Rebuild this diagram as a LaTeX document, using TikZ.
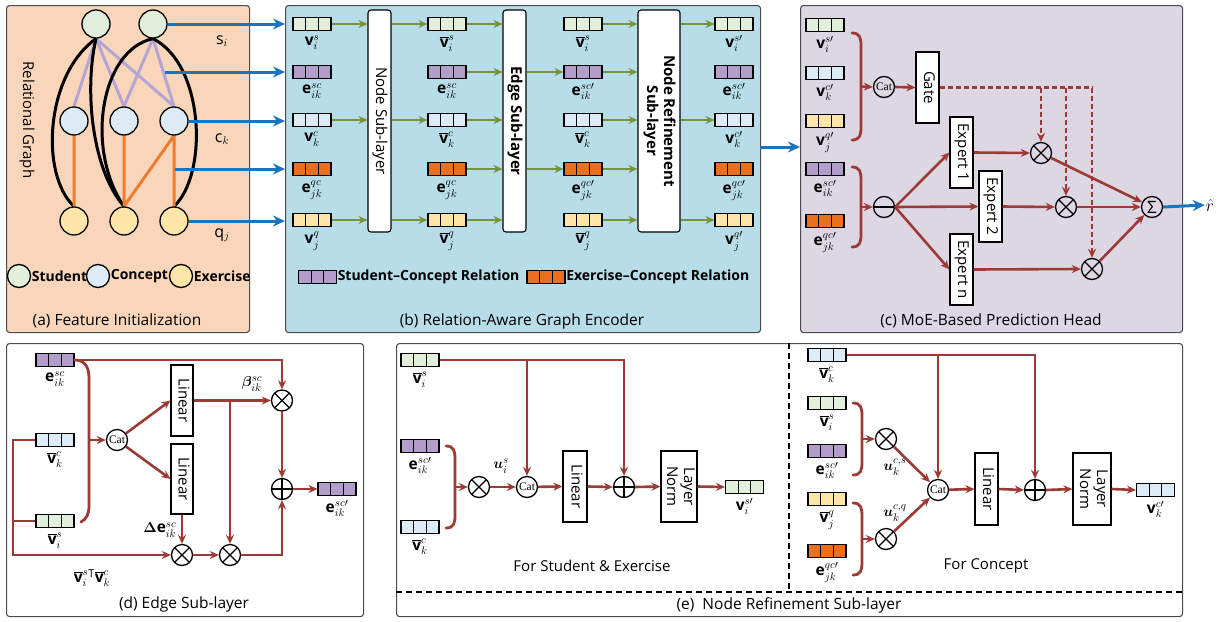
\documentclass[tikz,border=0pt]{standalone}
\usepackage{amsmath,bm}
\usepackage{fontspec}
\setmainfont{Open Sans}
\newfontfamily\catfont{Liberation Serif}
\usetikzlibrary{arrows.meta,calc}
\definecolor{cS}{HTML}{E2EFDA}
\definecolor{cC}{HTML}{DDEBF7}
\definecolor{cQ}{HTML}{FFE5A8}
\definecolor{cP}{HTML}{B39DCB}
\definecolor{cO}{HTML}{E8701F}
\definecolor{dred}{HTML}{9C3B35}
\definecolor{olive}{HTML}{77933C}
\definecolor{arrblue}{HTML}{1B75BC}
\definecolor{pA}{HTML}{F9D6BA}
\definecolor{pB}{HTML}{B7DDE8}
\definecolor{pC}{HTML}{DDD6E3}
\definecolor{gpurple}{HTML}{B4A5D4}
\definecolor{gorange}{HTML}{ED7D31}
\pgfdeclarelayer{panel}
\pgfdeclarelayer{edge}
\pgfsetlayers{panel,edge,main}
\newcommand\bv{\overline{\mathbf{v}}}
\newcommand\rotlab[1]{\rotatebox{-90}{\begin{tabular}{@{}c@{}}#1\end{tabular}}}
\newcommand\mybrace[4]{% x, ytop, ybot, name of tip
  \draw[brace] (#1,#2) .. controls (#1+8,#2) and (#1+9,#2+5) .. (#1+9,#2+13) -- (#1+9,#3-13) .. controls (#1+9,#3-5) and (#1+8,#3) .. (#1,#3);
  \coordinate (#4) at (#1+9,{(#2+#3)/2});}
\tikzset{
  every node/.style={font=\fontsize{15}{17}\selectfont},
  panelbox/.style={draw=black!70, line width=1.1pt, rounded corners=3pt, inner sep=0, anchor=north west},
  gnode/.style={circle, draw, line width=1.3pt, minimum size=28pt, inner sep=0, fill=#1},
  lgnode/.style={circle, draw, line width=1.3pt, minimum size=23pt, inner sep=0, fill=#1},
  vec/.style={draw, line width=1.1pt, fill=#1, minimum width=38pt, minimum height=13pt, inner sep=0,
    path picture={\draw[line width=1.1pt]
      ([xshift=12.67pt]path picture bounding box.south west) -- ([xshift=12.67pt]path picture bounding box.north west)
      ([xshift=-12.67pt]path picture bounding box.south east) -- ([xshift=-12.67pt]path picture bounding box.north east);}},
  vlab/.style={font=\fontsize{15.5}{18}\selectfont, inner sep=0.5pt},
  lgtext/.style={font=\fontsize{14}{16}\selectfont\bfseries, inner sep=0.5pt, anchor=west},
  lbox/.style={draw, line width=1.1pt, fill=white, rounded corners=3pt, inner sep=0},
  obox/.style={draw, line width=1.1pt, fill=white, inner sep=0},
  opx/.style={circle, draw, line width=1.3pt, minimum size=21pt, inner sep=0,
    path picture={\draw[line width=1.3pt] (path picture bounding box.north west) -- (path picture bounding box.south east) (path picture bounding box.north east) -- (path picture bounding box.south west);}},
  opp/.style={circle, draw, line width=1.3pt, minimum size=21pt, inner sep=0,
    path picture={\draw[line width=1.3pt] (path picture bounding box.north) -- (path picture bounding box.south) (path picture bounding box.west) -- (path picture bounding box.east);}},
  opm/.style={circle, draw, line width=1.3pt, minimum size=21pt, inner sep=0,
    path picture={\draw[line width=1.3pt] (path picture bounding box.west) -- (path picture bounding box.east);}},
  catc/.style={circle, draw, line width=1.3pt, minimum size=21pt, inner sep=0, font=\catfont\fontsize{11.5}{11.5}\selectfont},
  sumc/.style={circle, draw, line width=1.3pt, minimum size=21pt, inner sep=0, font=\fontsize{17}{17}\selectfont},
  rline/.style={draw=dred, line width=2.6pt},
  rarr/.style={draw=dred, line width=2.6pt, -{Stealth[length=9pt,width=8pt]}},
  rdash/.style={draw=dred, line width=2.6pt, dash pattern=on 5pt off 3pt},
  brace/.style={draw=dred, line width=2.8pt, line cap=round},
  garr/.style={draw=olive, line width=2.6pt, -{Stealth[length=9pt,width=8pt]}},
  barr/.style={draw=arrblue, line width=3pt, -{Stealth[length=12pt,width=11pt]}},
  gedge/.style={line width=3pt},
  captxt/.style={font=\fontsize{15.5}{17}\selectfont},
}
\begin{document}
\begin{tikzpicture}[x=1pt,y=-1pt,label distance=4pt]
\useasboundingbox (0,0) rectangle (1222,621);
\begin{pgfonlayer}{panel}
\fill[white] (0,0) rectangle (1222,621);
\node[panelbox, fill=pA, minimum width=243pt, minimum height=327pt] (PA) at (6,5) {};
\node[panelbox, fill=pB, minimum width=475pt, minimum height=327pt] (PB) at (285,5) {};
\node[panelbox, fill=pC, minimum width=382pt, minimum height=327pt] (PC) at (800,5) {};
\node[panelbox, fill=white, minimum width=357pt, minimum height=273pt] (PD) at (6,343) {};
\node[panelbox, fill=white, minimum width=786pt, minimum height=273pt] (PE) at (396,343) {};
\end{pgfonlayer}

% ---------------- panel (a)
\node[gnode=cS] (s1) at (96,24) {};
\node[gnode=cS] (s2) at (153,24) {};
\node[gnode=cC] (c1) at (74,121) {};
\node[gnode=cC] (c2) at (124,121) {};
\node[gnode=cC] (c3) at (174,121) {};
\node[gnode=cQ] (q1) at (74,221) {};
\node[gnode=cQ] (q2) at (124,221) {};
\node[gnode=cQ] (q3) at (174,221) {};
\begin{pgfonlayer}{edge}
\draw[gpurple, gedge] (s1.south) -- (c1.north) (s1.south) -- (c2.north) (s1.south) -- (c3.north)
  (s2.south) -- (c2.north) (s2.south) -- (c3.north);
\draw[black, gedge] (s1.south) .. controls (45,75) and (40,175) .. (q1.north);
\draw[black, gedge] (s1.south) .. controls (84,90) and (92,170) .. (q2.north);
\draw[black, gedge] (s2.south) .. controls (100,50) and (85,150) .. (q2.north);
\draw[black, gedge] (s2.south) .. controls (205,65) and (208,175) .. (q3.north);
\draw[gorange, gedge] (c1.south) -- (q1.north) (c2.south) -- (q2.north) (c3.south) -- (q2.north) (c3.south) -- (q3.north);
\end{pgfonlayer}
\coordinate (aE1) at (165,72);
\coordinate (aE2) at (175,169);
\draw[barr] (s2.east) -- (s2.east -| PB.west);
\draw[barr] (aE1) -- (aE1 -| PB.west);
\draw[barr] (c3.east) -- (c3.east -| PB.west);
\draw[barr] (aE2) -- (aE2 -| PB.west);
\draw[barr] (q3.east) -- (q3.east -| PB.west);
\node[font=\fontsize{16}{16}\selectfont] (ls) at (222,41) {$\mathrm{s}_i$};
\node[font=\fontsize{16}{16}\selectfont] (lc) at (222,139) {$\mathrm{c}_k$};
\node[font=\fontsize{16}{16}\selectfont] (lq) at (222,235) {$\mathrm{q}_j$};
\node[rotate=-90] (relg) at (27,120) {Relational Graph};
\node[lgnode=cS] (lgS) at (19,276) {};
\node[lgtext] (lgSt) at (lgS.east) {Student};
\node[lgnode=cC] (lgC) at (98,276) {};
\node[lgtext] (lgCt) at (lgC.east) {Concept};
\node[lgnode=cQ] (lgQ) at (181,276) {};
\node[lgtext] (lgQt) at (lgQ.east) {Exercise};
\node[captxt] (capA) at (117,321) {(a) Feature Initialization};

% ---------------- panel (b)
\node[vec=cS, label={[vlab]below:$\mathbf{v}_i^s$}] (b1s) at (312,24) {};
\node[vec=cP, label={[vlab]below:$\mathbf{e}_{ik}^{sc}$}] (b1e) at (312,72) {};
\node[vec=cC, label={[vlab]below:$\mathbf{v}_k^c$}] (b1c) at (312,120) {};
\node[vec=cO, label={[vlab]below:$\mathbf{e}_{jk}^{qc}$}] (b1f) at (312,169) {};
\node[vec=cQ, label={[vlab]below:$\mathbf{v}_j^q$}] (b1q) at (312,220) {};
\node[vec=cS, label={[vlab]below:$\bv_i^s$}] (b2s) at (447,24) {};
\node[vec=cP, label={[vlab]below:$\mathbf{e}_{ik}^{sc}$}] (b2e) at (447,72) {};
\node[vec=cC, label={[vlab]below:$\bv_k^c$}] (b2c) at (447,120) {};
\node[vec=cO, label={[vlab]below:$\mathbf{e}_{jk}^{qc}$}] (b2f) at (447,169) {};
\node[vec=cQ, label={[vlab]below:$\bv_j^q$}] (b2q) at (447,220) {};
\node[vec=cS, label={[vlab]below:$\bv_i^s$}] (b3s) at (583,24) {};
\node[vec=cP, label={[vlab]below:$\mathbf{e}_{ik}^{sc\prime}$}] (b3e) at (583,72) {};
\node[vec=cC, label={[vlab]below:$\bv_k^c$}] (b3c) at (583,120) {};
\node[vec=cO, label={[vlab]below:$\mathbf{e}_{jk}^{qc\prime}$}] (b3f) at (583,169) {};
\node[vec=cQ, label={[vlab]below:$\bv_j^q$}] (b3q) at (583,220) {};
\node[vec=cS, label={[vlab]below:$\mathbf{v}_i^{s\prime}$}] (b4s) at (734,24) {};
\node[vec=cP, label={[vlab]below:$\mathbf{e}_{ik}^{sc\prime}$}] (b4e) at (734,72) {};
\node[vec=cC, label={[vlab]below:$\mathbf{v}_k^{c\prime}$}] (b4c) at (734,120) {};
\node[vec=cO, label={[vlab]below:$\mathbf{e}_{jk}^{qc\prime}$}] (b4f) at (734,169) {};
\node[vec=cQ, label={[vlab]below:$\mathbf{v}_j^{q\prime}$}] (b4q) at (734,220) {};
\node[lbox, minimum width=23pt, minimum height=222pt] (NS) at (379.5,121) {\rotlab{Node Sub-layer}};
\node[lbox, minimum width=23pt, minimum height=222pt] (ES) at (514.5,121) {\rotlab{\bfseries Edge Sub-layer}};
\node[lbox, minimum width=42pt, minimum height=222pt] (NR) at (659,121) {\rotlab{\textbf{Node Refinement}\\\textbf{Sub-layer}}};
\foreach \r in {s,c,q} {
  \draw[garr] (b1\r.east) -- (b1\r.east -| NS.west);
  \draw[garr] (NS.east |- b2\r.west) -- (b2\r.west);
  \draw[garr] (NR.east |- b4\r.west) -- (b4\r.west);
}
\foreach \r in {e,f} {
  \draw[garr] (ES.east |- b3\r.west) -- (b3\r.west);
}
\foreach \r in {s,e,c,f,q} {
  \draw[garr] (b2\r.east) -- (b2\r.east -| ES.west);
  \draw[garr] (b3\r.east) -- (b3\r.east -| NR.west);
}
\node[vec=cP] (lgP) at (317.5,277) {};
\node[lgtext] (lgPt) at (lgP.east) {Student--Concept Relation};
\node[vec=cO] (lgO) at (546,277) {};
\node[lgtext] (lgOt) at (lgO.east) {Exercise--Concept Relation};
\node[captxt] (capB) at (522,321) {(b) Relation-Aware Graph Encoder};
\coordinate (bc) at (760,147);
\draw[barr] (bc) -- (bc -| PC.west);

% ---------------- panel (c)
\node[vec=cS, label={[vlab]below:$\mathbf{v}_i^{s\prime}$}] (k1) at (825,25) {};
\node[vec=cC, label={[vlab]below:$\mathbf{v}_k^{c\prime}$}] (k2) at (825,73) {};
\node[vec=cQ, label={[vlab]below:$\mathbf{v}_j^{q\prime}$}] (k3) at (825,121) {};
\node[vec=cP, label={[vlab]below:$\mathbf{e}_{ik}^{sc\prime}$}] (k4) at (825,169) {};
\node[vec=cO, label={[vlab]below:$\mathbf{e}_{jk}^{qc\prime}$}] (k5) at (825,221) {};
\mybrace{852}{33}{140}{cb1}
\mybrace{852}{167}{247}{cb2}
\node[catc] (cCat) at (884,87) {Cat};
\node[obox, minimum width=23pt, minimum height=71pt] (Gate) at (927.5,87.5) {\rotlab{Gate}};
\node[opm] (cMin) at (884,207) {};
\node[obox, minimum width=23pt, minimum height=71pt] (E1) at (961.5,152.5) {\rotlab{Expert 1}};
\node[obox, minimum width=23pt, minimum height=71pt] (E2) at (990.5,206.5) {\rotlab{Expert 2}};
\node[obox, minimum width=23pt, minimum height=71pt] (En) at (961.5,269.5) {\rotlab{Expert n}};
\node[opx] (cX1) at (1041,153) {};
\node[opx] (cX2) at (1066,207) {};
\node[opx] (cX3) at (1092,269) {};
\node[sumc] (cSum) at (1152,207) {Σ};
\node[font=\fontsize{17}{17}\selectfont, inner sep=1pt] (rhat) at (1210,205) {$\hat{r}$};
\draw[rarr] (cb1) -- (cCat.west);
\draw[rarr] (cCat.east) -- (Gate.west);
\draw[rarr] (cb2) -- (cMin.west);
\draw[rarr] (cMin.east) -- (E1.west);
\draw[rarr] (cMin.east) -- (E2.west);
\draw[rarr] (cMin.east) -- (En.west);
\draw[rarr] (E1.east) -- (cX1.west);
\draw[rarr] (E2.east) -- (cX2.west);
\draw[rarr] (En.east) -- (cX3.west);
\draw[rarr] (cX1) -- (cSum);
\draw[rarr] (cX2) -- (cSum);
\draw[rarr] (cX3) -- (cSum);
\draw[rdash] (Gate.east) -- (Gate.east -| cX3);
\draw[rdash, -{Stealth[length=9pt,width=8pt]}] (Gate.east -| cX1) -- (cX1.north);
\draw[rdash, -{Stealth[length=9pt,width=8pt]}] (Gate.east -| cX2) -- (cX2.north);
\draw[rdash, -{Stealth[length=9pt,width=8pt]}] (Gate.east -| cX3) -- (cX3.north);
\draw[barr] (cSum.east) -- (rhat.west);
\node[captxt] (capC) at (991,321) {(c) MoE-Based Prediction Head};

% ---------------- panel (d)
\node[vec=cP, label={[vlab]below:$\mathbf{e}_{ik}^{sc}$}] (dE) at (55,360) {};
\node[vec=cC, label={[vlab]below:$\bv_k^c$}] (dVk) at (55,440) {};
\node[vec=cS, label={[vlab]below:$\bv_i^s$}] (dVi) at (55,521) {};
\draw[brace] (dE.east) .. controls (84,360) and (89,366) .. (89,378) -- (89,506) .. controls (89,515) and (86,519) .. (81,522);
\coordinate (dbt) at (89,440);
\node[catc] (dCat) at (117,440) {Cat};
\node[obox, minimum width=22pt, minimum height=71pt] (Lin1) at (182,400.5) {\rotlab{Linear}};
\node[obox, minimum width=22pt, minimum height=70pt] (Lin2) at (182,479) {\rotlab{Linear}};
\node[opx] (dX1) at (282,400.5) {};
\node[opp] (dPlus) at (282,489) {};
\node[opx] (dX2) at (182,555) {};
\node[opx] (dX3) at (230,555) {};
\node[vec=cP, label={[vlab]below:$\mathbf{e}_{ik}^{sc\prime}$}] (dOut) at (337,489) {};
\node[vlab] (betal) at (252,384) {$\boldsymbol{\beta}_{ik}^{sc}$};
\node[vlab, anchor=east] (deltal) at (177,530) {$\boldsymbol{\Delta}\mathbf{e}_{ik}^{sc}$};
\node[vlab] (vvl) at (92,578) {$\bv_i^{s}{}^{\mathrm{T}}\bv_k^c$};
\draw[rarr] (dE.east) -| (dX1.north);
\draw[rarr] (dbt) -- (dCat.west);
\draw[rarr] (dCat) -- (Lin1.west);
\draw[rarr] (dCat) -- (Lin2.west);
\draw[rarr] (Lin1.east) -- (dX1.west);
\coordinate (dbr) at (230,400.5);
\draw[rarr] (dbr) -- (dX3.north);
\draw[rarr] (dX1.south) -- (dPlus.north);
\draw[rarr] (Lin2.south) -- (dX2.north);
\coordinate (dL) at (13,440);
\draw[rarr] (dVk.west) -- (dL) |- (dX2.west);
\draw[rline] (dVi.west) -- (dVi.west -| dL);
\draw[rarr] (dX2) -- (dX3);
\draw[rarr] (dX3.east) -| (dPlus.south);
\draw[rarr] (dPlus.east) -- (dOut.west);
\node[captxt] (capD) at (184,604) {(d) Edge Sub-layer};

% ---------------- panel (e)
\draw[black, line width=1.1pt, dash pattern=on 6pt off 4pt] (396,592) -- (1182,592) (789,343) -- (789,592);
\node[captxt] (capE) at (789,605) {(e)\ \ Node Refinement Sub-layer};
% left part
\node[vec=cS, label={[vlab]below:$\bv_i^s$}] (eVi) at (420,360) {};
\node[vec=cP, label={[vlab]below:$\mathbf{e}_{ik}^{sc\prime}$}] (eE) at (420,446) {};
\node[vec=cC, label={[vlab]below:$\bv_k^c$}] (eVk) at (420,527) {};
\mybrace{446}{446}{528}{ebt}
\node[opx] (eX) at (479,487) {};
\node[catc] (eCat) at (527,487) {Cat};
\node[obox, minimum width=24pt, minimum height=71pt] (eLin) at (575,486.5) {\rotlab{Linear}};
\node[opp] (ePlus) at (624,487) {};
\node[obox, minimum width=36pt, minimum height=71pt] (eLN) at (679,486.5) {\rotlab{Layer\\Norm}};
\node[vec=cS, label={[vlab]below:$\mathbf{v}_i^{s\prime}$}] (eOut) at (744.5,487) {};
\node[vlab] (eul) at (501,466) {$\boldsymbol{u}_i^s$};
\draw[rarr] (ebt) -- (eX.west);
\draw[rarr] (eX) -- (eCat);
\draw[rarr] (eCat) -- (eLin.west);
\draw[rarr] (eLin.east) -- (ePlus.west);
\draw[rarr] (ePlus.east) -- (eLN.west);
\draw[rarr] (eLN.east) -- (eOut.west);
\draw[rarr] (eVi.east) -| (ePlus.north);
\draw[rarr] (eVi.east -| eCat) -- (eCat.north);
\node (eFor) at (592,566) {For Student \& Exercise};
% right part
\node[vec=cC, label={[vlab]below:$\bv_k^c$}] (fVk) at (827,355) {};
\node[vec=cS, label={[vlab]below:$\bv_i^s$}] (fVi) at (827,403) {};
\node[vec=cP, label={[vlab]below:$\mathbf{e}_{ik}^{sc\prime}$}] (fE) at (827,451) {};
\node[vec=cQ, label={[vlab]below:$\bv_j^q$}] (fVq) at (827,499) {};
\node[vec=cO, label={[vlab]below:$\mathbf{e}_{jk}^{qc\prime}$}] (fEq) at (827,551) {};
\mybrace{853}{403}{475}{fb1}
\mybrace{853}{503}{575}{fb2}
\node[opx] (fXs) at (886,439) {};
\node[opx] (fXq) at (886,539) {};
\node[catc] (fCat) at (938,490) {Cat};
\node[obox, minimum width=23pt, minimum height=72pt] (fLin) at (986.5,489) {\rotlab{Linear}};
\node[opp] (fPlus) at (1035,490) {};
\node[obox, minimum width=38pt, minimum height=72pt] (fLN) at (1092,489) {\rotlab{Layer\\Norm}};
\node[vec=cC, label={[vlab]below:$\mathbf{v}_k^{c\prime}$}] (fOut) at (1155.5,490) {};
\node[vlab] (ful1) at (895,467) {$\boldsymbol{u}_k^{c,s}$};
\node[vlab] (ful2) at (895,513) {$\boldsymbol{u}_k^{c,q}$};
\draw[rarr] (fb1) -- (fXs.west);
\draw[rarr] (fb2) -- (fXq.west);
\draw[rarr] (fXs) -- (fCat);
\draw[rarr] (fXq) -- (fCat);
\draw[rarr] (fCat) -- (fLin.west);
\draw[rarr] (fLin.east) -- (fPlus.west);
\draw[rarr] (fPlus.east) -- (fLN.west);
\draw[rarr] (fLN.east) -- (fOut.west);
\draw[rarr] (fVk.east) -| (fPlus.north);
\draw[rarr] (fVk.east -| fCat) -- (fCat.north);
\node (fFor) at (986,566) {For Concept};
\end{tikzpicture}
\end{document}
